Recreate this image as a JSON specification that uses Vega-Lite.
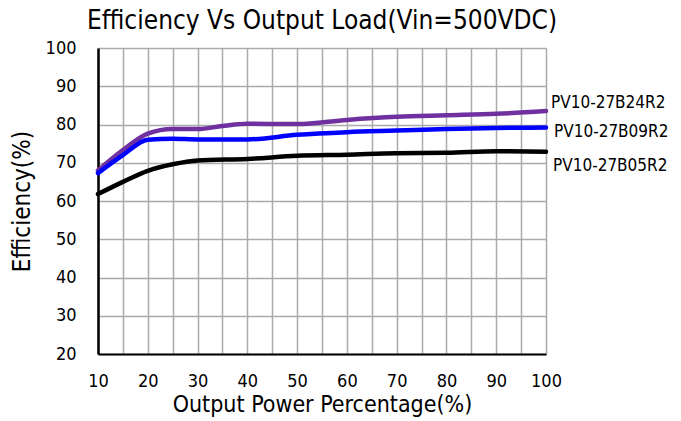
{
  "$schema": "https://vega.github.io/schema/vega-lite/v6.json",
  "autosize": "none",
  "width": 448,
  "height": 306,
  "padding": {"left": 98, "top": 48, "right": 135, "bottom": 67},
  "background": "white",
  "title": {"text": "Efficiency Vs  Output Load(Vin=500VDC)", "font": "DejaVu Sans Condensed", "fontSize": 26, "fontWeight": "normal", "color": "black", "anchor": "middle", "dx": 0, "offset": 5},
  "config": {"view": {"stroke": null}, "font": "DejaVu Sans Condensed"},
  "data": {"values": [
    {"s": "PV10-27B24R2", "x": 10, "y": 68.0},
    {"s": "PV10-27B24R2", "x": 15, "y": 73.3},
    {"s": "PV10-27B24R2", "x": 20, "y": 77.6},
    {"s": "PV10-27B24R2", "x": 25, "y": 78.8},
    {"s": "PV10-27B24R2", "x": 30, "y": 78.8},
    {"s": "PV10-27B24R2", "x": 35, "y": 79.6},
    {"s": "PV10-27B24R2", "x": 40, "y": 80.2},
    {"s": "PV10-27B24R2", "x": 50, "y": 80.1},
    {"s": "PV10-27B24R2", "x": 60, "y": 81.2},
    {"s": "PV10-27B24R2", "x": 70, "y": 82.0},
    {"s": "PV10-27B24R2", "x": 80, "y": 82.4},
    {"s": "PV10-27B24R2", "x": 90, "y": 82.8},
    {"s": "PV10-27B24R2", "x": 100, "y": 83.5},
    {"s": "PV10-27B09R2", "x": 10, "y": 67.3},
    {"s": "PV10-27B09R2", "x": 15, "y": 72.0},
    {"s": "PV10-27B09R2", "x": 20, "y": 76.0},
    {"s": "PV10-27B09R2", "x": 25, "y": 76.3},
    {"s": "PV10-27B09R2", "x": 30, "y": 76.1},
    {"s": "PV10-27B09R2", "x": 40, "y": 76.1},
    {"s": "PV10-27B09R2", "x": 50, "y": 77.3},
    {"s": "PV10-27B09R2", "x": 60, "y": 78.0},
    {"s": "PV10-27B09R2", "x": 70, "y": 78.4},
    {"s": "PV10-27B09R2", "x": 80, "y": 78.8},
    {"s": "PV10-27B09R2", "x": 90, "y": 79.1},
    {"s": "PV10-27B09R2", "x": 100, "y": 79.2},
    {"s": "PV10-27B05R2", "x": 10, "y": 61.8},
    {"s": "PV10-27B05R2", "x": 15, "y": 65.0},
    {"s": "PV10-27B05R2", "x": 20, "y": 67.9},
    {"s": "PV10-27B05R2", "x": 25, "y": 69.6},
    {"s": "PV10-27B05R2", "x": 30, "y": 70.6},
    {"s": "PV10-27B05R2", "x": 40, "y": 71.0},
    {"s": "PV10-27B05R2", "x": 50, "y": 71.8},
    {"s": "PV10-27B05R2", "x": 60, "y": 72.1},
    {"s": "PV10-27B05R2", "x": 70, "y": 72.5},
    {"s": "PV10-27B05R2", "x": 80, "y": 72.6},
    {"s": "PV10-27B05R2", "x": 90, "y": 73.0},
    {"s": "PV10-27B05R2", "x": 100, "y": 72.9}
  ]},
  "encoding": {
    "x": {"field": "x", "type": "quantitative", "scale": {"domain": [10, 100], "nice": false},
      "axis": {"values": [10,15,20,25,30,35,40,45,50,55,60,65,70,75,80,85,90,95,100],
        "labelExpr": "datum.value % 10 == 0 ? datum.label : ''", "labelOverlap": false,
        "title": "Output Power Percentage(%)", "titleFont": "DejaVu Sans Condensed", "titleFontSize": 23, "titleFontWeight": "normal", "titleColor": "black", "titlePadding": 3,
        "labelFont": "DejaVu Sans Condensed", "labelFontSize": 18, "labelColor": "black", "labelPadding": 18, "labelFlush": false,
        "ticks": false, "domainColor": "black", "domainWidth": 2,
        "grid": true, "gridColor": "#aaaaaa", "gridWidth": 1.5}},
    "y": {"field": "y", "type": "quantitative", "scale": {"domain": [20, 100], "nice": false},
      "axis": {"values": [20,30,40,50,60,70,80,90,100], "labelOverlap": false,
        "title": "Efficiency(%)", "titleFont": "DejaVu Sans Condensed", "titleFontSize": 24, "titleFontWeight": "normal", "titleColor": "black", "titlePadding": 11,
        "labelFont": "DejaVu Sans Condensed", "labelFontSize": 18, "labelColor": "black", "labelPadding": 22, "labelFlush": false,
        "ticks": false, "domainColor": "black", "domainWidth": 2.5,
        "grid": true, "gridColor": "#aaaaaa", "gridWidth": 1.5}}
  },
  "layer": [
    {
      "mark": {"type": "line", "interpolate": "monotone", "strokeCap": "round"},
      "encoding": {
        "color": {"field": "s", "type": "nominal", "legend": null,
          "scale": {"domain": ["PV10-27B24R2", "PV10-27B09R2", "PV10-27B05R2"], "range": ["#7030A0", "#0000FF", "#000000"]}},
        "strokeWidth": {"field": "s", "type": "nominal", "legend": null,
          "scale": {"domain": ["PV10-27B24R2", "PV10-27B09R2", "PV10-27B05R2"], "range": [4.5, 4.5, 2.3]}}
      }
    },
    {
      "transform": [{"filter": "datum.x == 100 && datum.s == 'PV10-27B24R2'"}],
      "mark": {"type": "text", "align": "left", "baseline": "middle", "dx": 5, "dy": -8, "fontSize": 17, "font": "DejaVu Sans Condensed", "color": "black"},
      "encoding": {"text": {"field": "s"}}
    },
    {
      "transform": [{"filter": "datum.x == 100 && datum.s == 'PV10-27B09R2'"}],
      "mark": {"type": "text", "align": "left", "baseline": "middle", "dx": 8, "dy": 4, "fontSize": 17, "font": "DejaVu Sans Condensed", "color": "black"},
      "encoding": {"text": {"field": "s"}}
    },
    {
      "transform": [{"filter": "datum.x == 100 && datum.s == 'PV10-27B05R2'"}],
      "mark": {"type": "text", "align": "left", "baseline": "middle", "dx": 7, "dy": 14, "fontSize": 17, "font": "DejaVu Sans Condensed", "color": "black"},
      "encoding": {"text": {"field": "s"}}
    }
  ]
}
